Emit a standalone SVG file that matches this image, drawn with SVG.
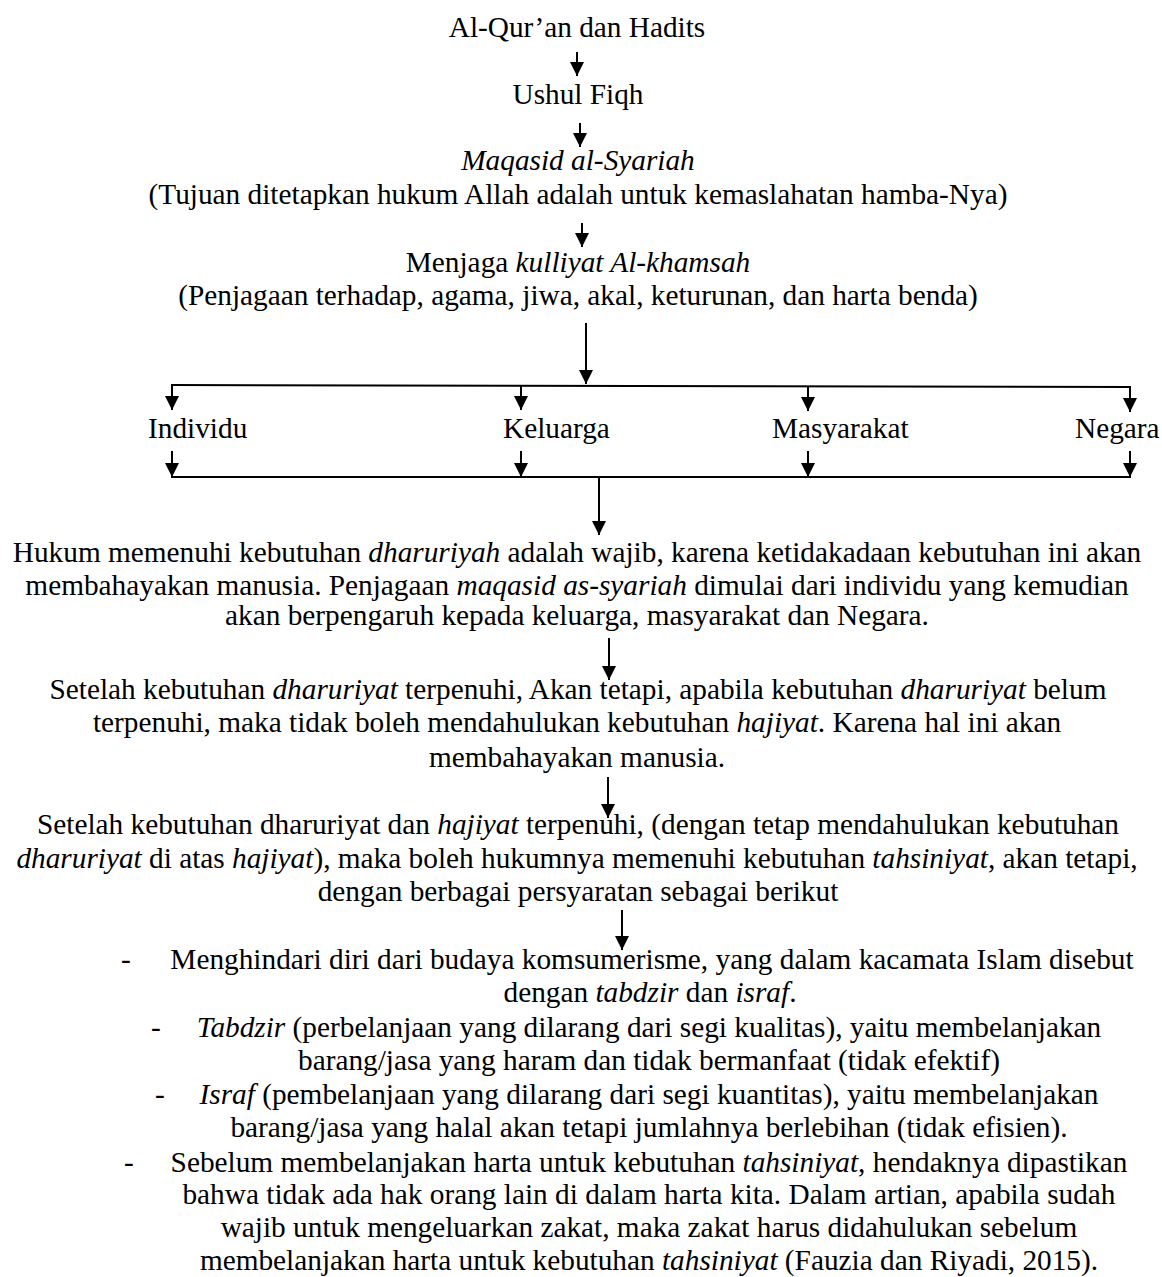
<svg xmlns="http://www.w3.org/2000/svg" width="1162" height="1277" viewBox="0 0 1162 1277">
<style>
text{font-family:"Liberation Serif","Times New Roman",serif;font-size:29.3px;fill:#000}
.c{text-anchor:middle}
.i{font-style:italic}
.ln{stroke:#000;stroke-width:2;fill:none}
.ar{stroke:#000;stroke-width:2;fill:none;marker-end:url(#ah)}
</style>
<defs>
<marker id="ah" markerUnits="userSpaceOnUse" markerWidth="14" markerHeight="14" refX="14" refY="7" orient="auto">
<path d="M0,0 L14,7 L0,14 z" fill="#000"/>
</marker>
</defs>
<g id="connectors">
<line class="ar" x1="577" y1="52" x2="577" y2="76"/>
<line class="ar" x1="580" y1="123" x2="580" y2="147"/>
<line class="ar" x1="582" y1="223" x2="582" y2="247"/>
<line class="ar" x1="586" y1="323" x2="586" y2="384"/>
<line class="ln" x1="171" y1="385" x2="1131" y2="387"/>
<line class="ar" x1="172" y1="385" x2="172" y2="410"/>
<line class="ar" x1="521" y1="386" x2="521" y2="410"/>
<line class="ar" x1="808" y1="386" x2="808" y2="411"/>
<line class="ar" x1="1130" y1="387" x2="1130" y2="412"/>
<line class="ar" x1="172" y1="451" x2="172" y2="477"/>
<line class="ar" x1="521" y1="451" x2="521" y2="477"/>
<line class="ar" x1="808" y1="451" x2="808" y2="477"/>
<line class="ar" x1="1130" y1="451" x2="1130" y2="477"/>
<line class="ln" x1="171" y1="477" x2="1131" y2="477"/>
<line class="ar" x1="599" y1="477" x2="599" y2="535"/>
<line class="ar" x1="609" y1="638" x2="609" y2="680"/>
<line class="ar" x1="608" y1="777" x2="608" y2="818"/>
<line class="ar" x1="622" y1="910" x2="622" y2="950"/>
</g>
<g id="n-quran"><text class="c" x="577" y="37">Al-Qur’an dan Hadits</text></g>
<g id="n-ushul"><text class="c" x="578" y="104">Ushul Fiqh</text></g>
<g id="n-maqasid">
<text class="c i" x="578" y="170">Maqasid al-Syariah</text>
<text class="c" x="578" y="204">(Tujuan ditetapkan hukum Allah adalah untuk kemaslahatan hamba-Nya)</text>
</g>
<g id="n-kulliyat">
<text class="c" x="578" y="272">Menjaga <tspan class="i">kulliyat Al-khamsah</tspan></text>
<text class="c" x="578" y="305">(Penjagaan terhadap, agama, jiwa, akal, keturunan, dan harta benda)</text>
</g>
<g id="n-individu"><text x="148" y="438">Individu</text></g>
<g id="n-keluarga"><text x="503" y="438">Keluarga</text></g>
<g id="n-masyarakat"><text x="772" y="438">Masyarakat</text></g>
<g id="n-negara"><text x="1075" y="438">Negara</text></g>
<g id="n-dharuriyah">
<text class="c" x="577" y="562">Hukum memenuhi kebutuhan <tspan class="i">dharuriyah</tspan> adalah wajib, karena ketidakadaan kebutuhan ini akan</text>
<text class="c" x="577" y="595">membahayakan manusia. Penjagaan <tspan class="i">maqasid as-syariah</tspan> dimulai dari individu yang kemudian</text>
<text class="c" x="577" y="625">akan berpengaruh kepada keluarga, masyarakat dan Negara.</text>
</g>
<g id="n-hajiyat">
<text class="c" x="578" y="699">Setelah kebutuhan <tspan class="i">dharuriyat</tspan> terpenuhi, Akan tetapi, apabila kebutuhan <tspan class="i">dharuriyat</tspan> belum</text>
<text class="c" x="577" y="732">terpenuhi, maka tidak boleh mendahulukan kebutuhan <tspan class="i">hajiyat</tspan>. Karena hal ini akan</text>
<text class="c" x="577" y="767">membahayakan manusia.</text>
</g>
<g id="n-tahsiniyat">
<text class="c" x="578" y="834">Setelah kebutuhan dharuriyat dan <tspan class="i">hajiyat</tspan> terpenuhi, (dengan tetap mendahulukan kebutuhan</text>
<text class="c" x="577" y="868"><tspan class="i">dharuriyat</tspan> di atas <tspan class="i">hajiyat</tspan>), maka boleh hukumnya memenuhi kebutuhan <tspan class="i">tahsiniyat</tspan>, akan tetapi,</text>
<text class="c" x="578" y="901">dengan berbagai persyaratan sebagai berikut</text>
</g>
<g id="n-syarat">
<text x="121" y="969">-</text>
<text class="c" x="652" y="969">Menghindari diri dari budaya komsumerisme, yang dalam kacamata Islam disebut</text>
<text class="c" x="650" y="1002">dengan <tspan class="i">tabdzir</tspan> dan <tspan class="i">israf</tspan>.</text>
<text x="151" y="1037">-</text>
<text class="c" x="649" y="1037"><tspan class="i">Tabdzir</tspan> (perbelanjaan yang dilarang dari segi kualitas), yaitu membelanjakan</text>
<text class="c" x="649" y="1070">barang/jasa yang haram dan tidak bermanfaat (tidak efektif)</text>
<text x="155" y="1104">-</text>
<text class="c" x="649" y="1104"><tspan class="i">Israf</tspan> (pembelanjaan yang dilarang dari segi kuantitas), yaitu membelanjakan</text>
<text class="c" x="649" y="1137">barang/jasa yang halal akan tetapi jumlahnya berlebihan (tidak efisien).</text>
<text x="124" y="1172">-</text>
<text class="c" x="649" y="1172">Sebelum membelanjakan harta untuk kebutuhan <tspan class="i">tahsiniyat</tspan>, hendaknya dipastikan</text>
<text class="c" x="649" y="1204">bahwa tidak ada hak orang lain di dalam harta kita. Dalam artian, apabila sudah</text>
<text class="c" x="649" y="1237">wajib untuk mengeluarkan zakat, maka zakat harus didahulukan sebelum</text>
<text class="c" x="649" y="1270">membelanjakan harta untuk kebutuhan <tspan class="i">tahsiniyat</tspan> (Fauzia dan Riyadi, 2015).</text>
</g>
</svg>
